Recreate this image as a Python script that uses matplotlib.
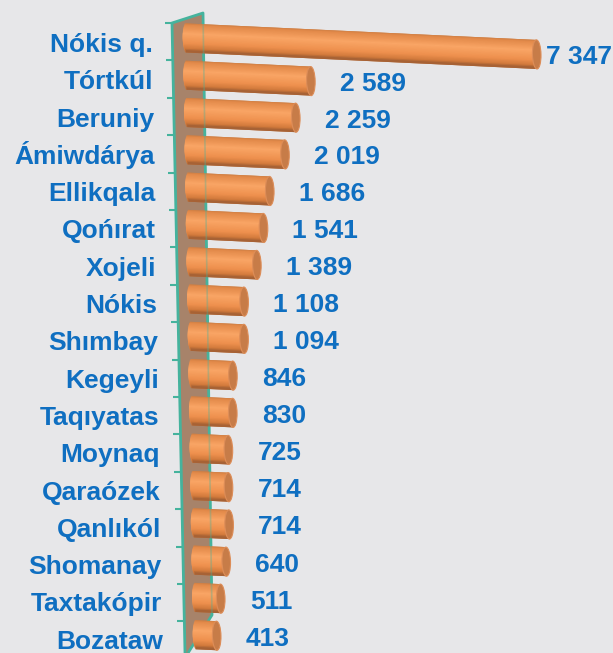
import matplotlib

matplotlib.use("Agg")
import matplotlib.pyplot as plt  # noqa: E402
import numpy as np  # noqa: E402
from matplotlib.colors import LinearSegmentedColormap  # noqa: E402
from matplotlib.patches import Ellipse, Polygon  # noqa: E402
from matplotlib.transforms import Affine2D  # noqa: E402

# data (top to bottom)
districts = ["Nókis q.", "Tórtkúl", "Beruniy", "Ámiwdárya", "Ellikqala", "Qońırat",
             "Xojeli", "Nókis", "Shımbay", "Kegeyli", "Taqıyatas", "Moynaq",
             "Qaraózek", "Qanlıkól", "Shomanay", "Taxtakópir", "Bozataw"]
counts = [7347, 2589, 2259, 2019, 1686, 1541, 1389, 1108, 1094, 846, 830, 725,
          714, 714, 640, 511, 413]

W, H = 613, 653
BG = "#e7e7e9"
BLUE = "#0f6fc1"
TEAL = "#45b39d"
WALL = "#a7836a"

# pixel geometry of the fake 3D plot
PX_PER_UNIT = 0.0476
X0_PX = 187
ROW0_PX = 38
ROW_PX = 37.3
SLOPE_Y = -0.047   # bars drop to the right
SLOPE_X = -0.0168  # bar starts drift right going down

body_cmap = LinearSegmentedColormap.from_list("cyl", [
    (0.0, "#c0763e"), (0.1, "#e38a4a"), (0.4, "#f9a565"),
    (0.72, "#ee904e"), (0.9, "#d27a3c"), (1.0, "#9c5c33")])

fig = plt.figure(figsize=(W / 100, H / 100), dpi=100)
fig.patch.set_facecolor(BG)
ax = fig.add_axes([0, 0, 1, 1])
ax.set_axis_off()
ax.set_xlim(-X0_PX / PX_PER_UNIT, (W - X0_PX) / PX_PER_UNIT)
ax.set_ylim((H - ROW0_PX) / ROW_PX, -ROW0_PX / ROW_PX)
ax.set_autoscale_on(False)

x0, y0 = ax.transData.transform((0, 0))
skew = ax.transData + Affine2D.from_values(1, SLOPE_Y, SLOPE_X, 1,
                                           -SLOPE_X * y0, -SLOPE_Y * x0)


def px(x, y):
    """pixel (from top-left) -> figure fraction"""
    return (x / W, 1 - y / H)


def fig_line(points, **kw):
    xs, ys = zip(*[px(*p) for p in points])
    ax.plot(xs, ys, transform=fig.transFigure, clip_on=False,
            solid_capstyle="butt", **kw)


# side wall
wall_pts = [(172, 23), (203, 13), (212, 615), (188, 653), (185, 653)]
ax.add_patch(Polygon([px(*p) for p in wall_pts], closed=True,
                     transform=fig.transFigure, facecolor=WALL,
                     edgecolor="none", zorder=0.5, clip_on=False))
fig_line([(185, 653), (172, 23), (203, 13), (212, 615), (188, 653)],
         color=TEAL, lw=2, zorder=0.6)
for j in range(len(districts)):
    ty = 23 + 37.4 * j
    lx = 172 + 13 * (ty - 23) / 630
    fig_line([(lx - 7, ty), (lx, ty)], color=TEAL, lw=1.5, zorder=0.6)

pos = np.arange(len(districts))
vals = np.array(counts, dtype=float)
r = 0.39
a = 90
n_strips = 24
dh = 2 * r / n_strips
for j in range(n_strips):
    tc = -r + (j + 0.5) * dh
    lo = max(-r, tc - 1.5 * dh)
    hi = min(r, tc + 1.5 * dh)
    ext = a * np.sqrt(max(0.0, 1 - (tc / r) ** 2))
    bars = ax.barh(pos + (lo + hi) / 2, vals + ext, left=-ext, height=hi - lo,
                   color=body_cmap((j + 0.5) / n_strips), linewidth=0, zorder=2)
    for b in bars:
        b.set_transform(skew)

for k, v in zip(pos, vals):
    cap = Ellipse((v, k), width=2 * a, height=2 * r, facecolor="#c77c48",
                  edgecolor="#dd8d58", lw=0.8, zorder=3)
    cap.set_transform(skew)
    ax.add_patch(cap)

# faint wall edge seen through the bars
fig_line([(203, 13), (212, 615)], color=TEAL, lw=1.2, alpha=0.35, zorder=4)

font = dict(family=["Liberation Sans", "DejaVu Sans"], fontweight="bold",
            fontsize=19, color=BLUE)
for k, name in zip(pos, districts):
    ax.annotate(name, xy=(-34 / PX_PER_UNIT, k), xycoords=skew,
                xytext=(0, -15.5 * 72 / 100), textcoords="offset points",
                ha="right", va="baseline", **font)

for k, v in zip(pos, vals):
    pad = 9 if v == vals.max() else 29
    label = f"{int(v):,}".replace(",", " ")
    ax.annotate(label, xy=(v, k), xycoords=skew,
                xytext=(pad * 72 / 100, -10 * 72 / 100), textcoords="offset points",
                ha="left", va="baseline", zorder=6, **font)

fig.savefig("out.png", dpi=100, facecolor=BG)
